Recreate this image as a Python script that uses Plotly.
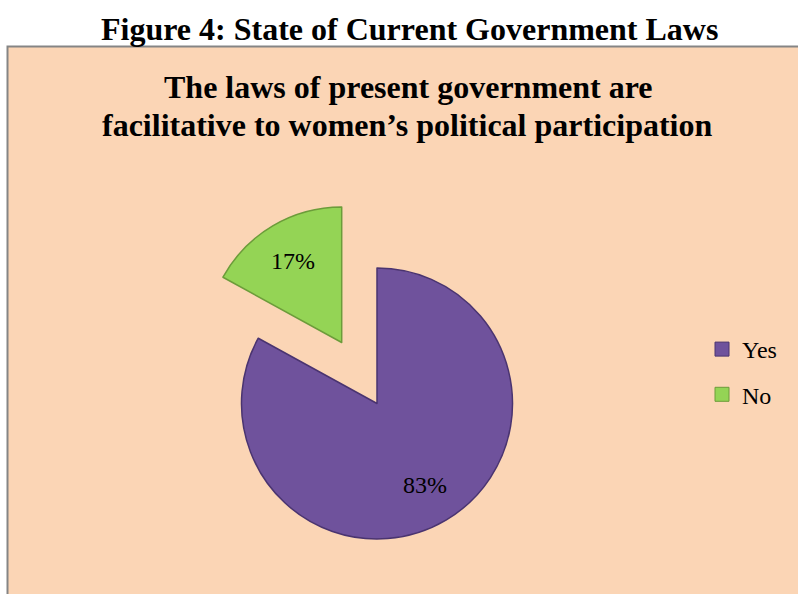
import math
import plotly.graph_objects as go

# Survey responses (percent of respondents)
categories = ["Yes", "No"]
shares = [83, 17]

fill_colors = {"Yes": "#6F529C", "No": "#94D455"}
edge_colors = {"Yes": "#4A3470", "No": "#6C9C3A"}
CLEAR = "rgba(0,0,0,0)"

W, H = 798, 594
SERIF = "Liberation Serif"
R = 135.5
# pixel position of each wedge's apex (the "No" wedge is exploded outward)
apex = {"Yes": (377, 403.5), "No": (341.7, 342.5)}


def px_domain(cx, cy, r):
    """Square pie domain (paper coords) centred on pixel (cx, cy) with radius r."""
    return dict(x=[(cx - r) / W, (cx + r) / W],
                y=[1 - (cy + r) / H, 1 - (cy - r) / H])


def slice_layer(visible_label):
    """One pie trace where only `visible_label` is painted; the rest is clear."""
    cx, cy = apex[visible_label]
    colors = [fill_colors[c] if c == visible_label else CLEAR for c in categories]
    lines = [edge_colors[c] if c == visible_label else CLEAR for c in categories]
    return go.Pie(
        labels=categories,
        values=shares,
        sort=False,
        direction="clockwise",
        rotation=0,
        marker=dict(colors=colors, line=dict(color=lines, width=1.5)),
        textinfo="none",
        hoverinfo="label+percent",
        showlegend=False,
        domain=px_domain(cx, cy, R),
    )


fig = go.Figure()
for c in categories:
    fig.add_trace(slice_layer(c))

# percentage labels placed on each wedge's bisector
total = sum(shares)
label_annotations = []
start = 0.0
for c, v in zip(categories, shares):
    frac = v / total
    mid = 2 * math.pi * (start + frac / 2)  # clockwise from 12 o'clock
    start += frac
    cx, cy = apex[c]
    lx = cx + 0.7 * R * math.sin(mid)
    ly = cy - 0.7 * R * math.cos(mid)
    label_annotations.append(dict(
        text=f"{round(frac * 100)}%", xref="paper", yref="paper",
        x=lx / W, y=1 - ly / H, showarrow=False,
        xanchor="center", yanchor="middle",
        font=dict(family=SERIF, size=24, color="black"),
    ))

# legend entries
for c in categories:
    fig.add_trace(go.Scatter(
        x=[None], y=[None], mode="markers", name=c,
        legendgroup=c,
        marker=dict(symbol="square", size=14, color=fill_colors[c],
                    line=dict(color=edge_colors[c], width=1)),
    ))

title_font = dict(family=SERIF, size=32, color="black")
fig.update_layout(
    width=W, height=H,
    margin=dict(l=0, r=0, t=0, b=0),
    paper_bgcolor="white",
    plot_bgcolor="rgba(0,0,0,0)",
    xaxis=dict(visible=False),
    yaxis=dict(visible=False),
    showlegend=True,
    legend=dict(
        x=702 / W, xanchor="left",
        y=1 - 327 / H, yanchor="top",
        bgcolor="rgba(0,0,0,0)",
        font=dict(family=SERIF, size=24, color="black"),
        tracegroupgap=11,
        itemclick=False, itemdoubleclick=False,
    ),
    shapes=[dict(
        type="rect", xref="paper", yref="paper", layer="below",
        x0=7.5 / W, x1=1.05, y0=-0.05, y1=1 - 46.5 / H,
        fillcolor="#FBD5B5", line=dict(color="#858585", width=2),
    )],
    annotations=[
        dict(text="<b>Figure 4: State of Current Government Laws</b>",
             xref="paper", yref="paper", x=409 / W, y=1 - 29 / H,
             showarrow=False, xanchor="center", yanchor="middle",
             font=title_font),
        dict(text="<b>The laws of present government are</b>",
             xref="paper", yref="paper", x=408 / W, y=1 - 87 / H,
             showarrow=False, xanchor="center", yanchor="middle",
             font=title_font),
        dict(text="<b>facilitative to women\u2019s political participation</b>",
             xref="paper", yref="paper", x=407 / W, y=1 - 125 / H,
             showarrow=False, xanchor="center", yanchor="middle",
             font=title_font),
    ] + label_annotations,
)

fig.write_html("out.html")
